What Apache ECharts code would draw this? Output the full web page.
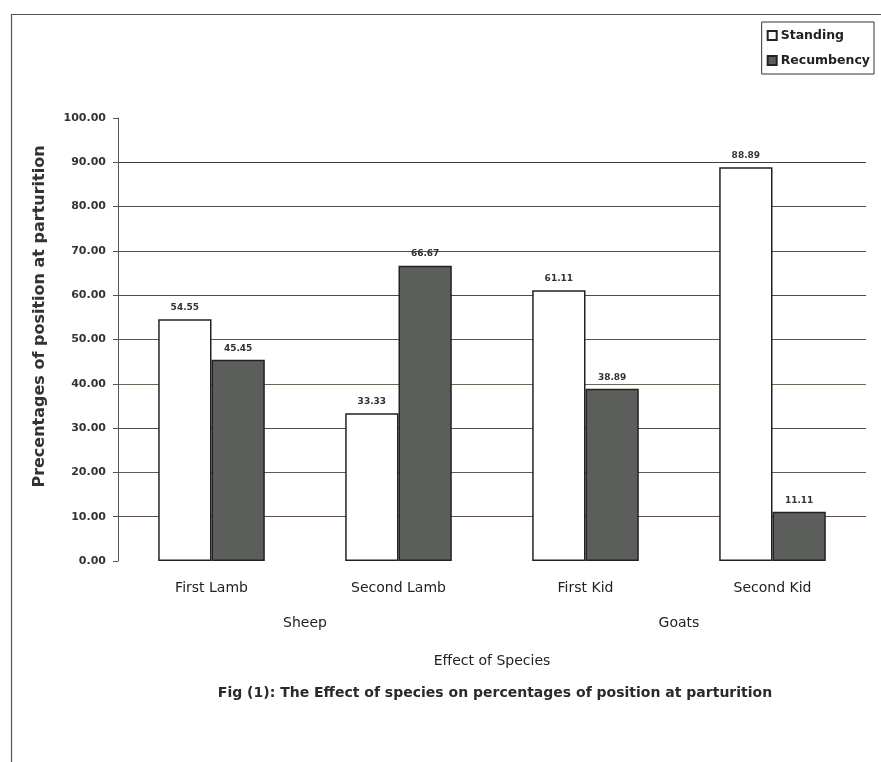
<!DOCTYPE html>
<html>
<head>
<meta charset="utf-8">
<script src="https://cdn.jsdelivr.net/npm/echarts@6/dist/echarts.min.js"></script>
<style>
  html, body { margin: 0; padding: 0; background: #ffffff; }
  #chart { width: 881px; height: 762px; }
</style>
</head>
<body>
<div id="chart"></div>
<script>
// Births grouped by parity within each species
const categories = ['First Lamb', 'Second Lamb', 'First Kid', 'Second Kid'];
const speciesGroups = ['Sheep', 'Goats'];
const standing = [54.55, 33.33, 61.11, 88.89];
const recumbency = [45.45, 66.67, 38.89, 11.11];

const chart = echarts.init(document.getElementById('chart'));
const font = '"DejaVu Sans", Verdana, sans-serif';

const valueLabel = {
  show: true,
  position: 'top',
  distance: 7,
  fontFamily: font,
  fontSize: 9,
  fontWeight: 'bold',
  color: '#333',
  formatter: p => p.value.toFixed(2)
};

chart.setOption({
  animation: false,
  backgroundColor: '#ffffff',
  textStyle: { fontFamily: font },
  title: {
    text: 'Fig (1): The Effect of species on percentages of position at parturition',
    left: 490,
    textAlign: 'center',
    top: 681,
    textStyle: { fontFamily: font, fontSize: 14, fontWeight: 'bold', color: '#2a2a2a' }
  },
  legend: {
    right: 7,
    top: 22,
    orient: 'vertical',
    icon: 'rect',
    itemWidth: 9,
    itemHeight: 9,
    itemGap: 12,
    padding: [7, 4, 7, 5],
    borderColor: '#333',
    borderWidth: 1,
    data: ['Standing', 'Recumbency'],
    textStyle: { fontFamily: font, fontSize: 12.5, fontWeight: 'bold', color: '#222', padding: [0, 0, 0, -1] }
  },
  grid: { left: 118, right: 15, top: 118, bottom: 201 },
  xAxis: [
    {
      type: 'category',
      data: categories,
      axisLine: { show: false },
      axisTick: { show: false },
      axisLabel: { margin: 20, fontFamily: font, fontSize: 14, color: '#222' },
      name: 'Effect of Species',
      nameLocation: 'middle',
      nameGap: 93,
      nameTextStyle: { fontFamily: font, fontSize: 14, color: '#222' }
    },
    {
      type: 'category',
      data: speciesGroups,
      position: 'bottom',
      gridIndex: 0,
      axisLine: { show: false },
      axisTick: { show: false },
      axisLabel: { margin: 55, fontFamily: font, fontSize: 14, color: '#222' }
    }
  ],
  yAxis: {
    type: 'value',
    min: 0,
    max: 100,
    interval: 10,
    axisLine: { show: true, lineStyle: { color: '#555', width: 1 } },
    axisTick: { show: true, length: 5, lineStyle: { color: '#555' } },
    axisLabel: {
      margin: 12,
      fontFamily: font,
      fontSize: 11,
      fontWeight: 'bold',
      color: '#333',
      formatter: v => v.toFixed(2)
    },
    splitLine: {
      show: true,
      lineStyle: { color: ['#ffffff', '#6a4a48', '#556055', '#4a5048', '#6a6a4a', '#5a5a40', '#4a4a55', '#5a4a50', '#4a4a60', '#3a3a55', 'rgba(0,0,0,0)'], width: 1.2 }
    },
    name: 'Precentages of position at parturition',
    nameLocation: 'middle',
    nameGap: 70,
    nameTextStyle: { fontFamily: font, fontSize: 16, fontWeight: 'bold', color: '#333', padding: [0, 0, 0, 46] }
  },
  series: [
    {
      name: 'Standing',
      type: 'bar',
      data: standing,
      barGap: '0%',
      barCategoryGap: '43%',
      itemStyle: { color: '#ffffff', borderColor: '#222', borderWidth: 1.5 },
      label: valueLabel
    },
    {
      name: 'Recumbency',
      type: 'bar',
      data: recumbency,
      itemStyle: { color: '#5c5e5c', borderColor: '#222', borderWidth: 1.5 },
      label: valueLabel
    }
  ],
  graphic: [
    {
      type: 'rect',
      left: 9,
      top: 12,
      shape: { width: 890, height: 760 },
      style: { fill: 'none', stroke: '#555', lineWidth: 1.2 },
      silent: true
    }
  ]
});
</script>
</body>
</html>
